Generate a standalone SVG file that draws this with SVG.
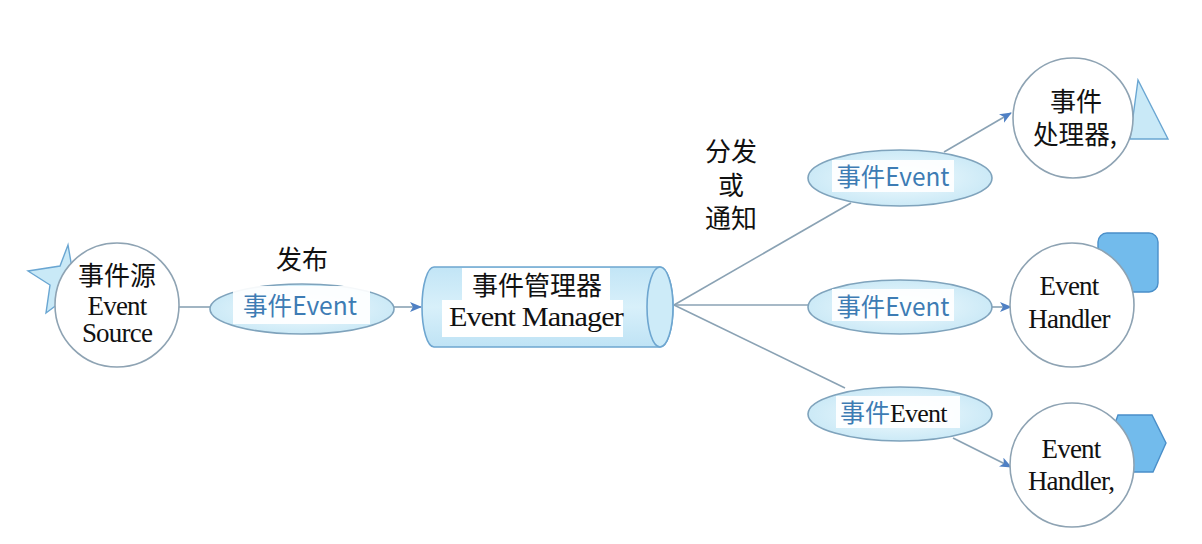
<svg xmlns="http://www.w3.org/2000/svg" width="1202" height="544" viewBox="0 0 1202 544">
<defs>
<style>
.bg{fill:#ffffff}
.circ{fill:#ffffff;stroke:#8ea3b3;stroke-width:1.6}
.ell{fill:url(#eg);stroke:#7fa3bc;stroke-width:1.6}
.line{fill:none;stroke:#8aa2b4;stroke-width:1.6}
.arrow{fill:none;stroke:#8aa2b4;stroke-width:1.6;marker-end:url(#ah)}
.cjk{font-family:"Noto Sans CJK SC","Noto Sans",sans-serif;font-size:26px;fill:#111}
.ser{font-family:"Liberation Serif","Noto Sans CJK SC",serif;font-size:27px;fill:#111;letter-spacing:-0.8px}
.blue{font-family:"Noto Sans CJK SC","Noto Sans",sans-serif;font-size:25px;fill:#3d7cb4}
.lblue{fill:#c9e9f7;stroke:#6aa6d2;stroke-width:1.4}
.dblue{fill:#72bbec;stroke:#4a8fc9;stroke-width:1.4}
.wbox{fill:#ffffff;opacity:0.92}
</style>
<radialGradient id="eg" cx="50%" cy="50%" r="60%">
<stop offset="0" stop-color="#f2fbfe"/>
<stop offset="1" stop-color="#c4e6f5"/>
</radialGradient>
<linearGradient id="cg" x1="0" y1="0" x2="0" y2="1">
<stop offset="0" stop-color="#c2e5f6"/>
<stop offset="0.5" stop-color="#d8f0fa"/>
<stop offset="1" stop-color="#bfe3f5"/>
</linearGradient>
<marker id="ah" viewBox="0 0 12 10" refX="11" refY="5" markerWidth="12" markerHeight="10" markerUnits="userSpaceOnUse" orient="auto">
<path d="M0,0 L12,5 L0,10 L3,5 Z" fill="#4f80c4"/>
</marker>
</defs>
<rect class="bg" x="0" y="0" width="1202" height="544"/>

<g id="connectors">
<line class="line" x1="179" y1="307" x2="211" y2="307"/>
<line class="arrow" x1="394" y1="307" x2="421" y2="307"/>
<line class="line" x1="674" y1="305" x2="851" y2="203"/>
<line class="line" x1="674" y1="305" x2="808" y2="305"/>
<line class="line" x1="674" y1="305" x2="845" y2="388"/>
<line class="arrow" x1="944" y1="152" x2="1011" y2="113"/>
<line class="arrow" x1="992" y1="307" x2="1011" y2="307"/>
<line class="arrow" x1="953" y1="438" x2="1011" y2="467"/>
</g>

<g id="event-source">
<polygon class="lblue" points="68,245 60,266 28,271 50,285 46,313 66,298 92,312 78,285 98,262 72,268"/>
<circle class="circ" cx="117" cy="305" r="62"/>
<text class="cjk" x="117" y="285" text-anchor="middle">事件源</text>
<text class="ser" x="117" y="315" text-anchor="middle">Event</text>
<text class="ser" x="117" y="342" text-anchor="middle">Source</text>
</g>

<g id="publish-label">
<text class="cjk" x="302" y="269" text-anchor="middle">发布</text>
</g>

<g id="event-publish">
<ellipse class="ell" cx="302" cy="309" rx="92" ry="25"/>
<rect class="wbox" x="233" y="286" width="137" height="38"/>
<text class="blue" x="300" y="315" text-anchor="middle" textLength="114" lengthAdjust="spacingAndGlyphs">事件Event</text>
</g>

<g id="event-manager">
<path d="M434,267 L660,267 A13,40 0 0 1 660,347 L434,347 A12,40 0 0 1 434,267 Z" fill="url(#cg)" stroke="#6ea6d0" stroke-width="1.6"/>
<ellipse cx="660" cy="307" rx="13" ry="40" fill="#cdebf8" stroke="#6ea6d0" stroke-width="1.6"/>
<rect class="bg" x="462" y="268" width="148" height="34"/>
<rect class="bg" x="442" y="300" width="181" height="37"/>
<text class="cjk" x="537" y="295" text-anchor="middle">事件管理器</text>
<text class="ser" x="536" y="326" text-anchor="middle" textLength="174" lengthAdjust="spacingAndGlyphs">Event Manager</text>
</g>

<g id="dispatch-label">
<text class="cjk" x="731" y="161" text-anchor="middle">分发</text>
<text class="cjk" x="731" y="195" text-anchor="middle">或</text>
<text class="cjk" x="731" y="228" text-anchor="middle">通知</text>
</g>

<g id="event-upper">
<ellipse class="ell" cx="900" cy="178" rx="92" ry="28"/>
<rect class="wbox" x="832" y="160" width="122" height="32"/>
<text class="blue" x="893" y="186" text-anchor="middle" textLength="113" lengthAdjust="spacingAndGlyphs">事件Event</text>
</g>

<g id="event-middle">
<ellipse class="ell" cx="900" cy="307" rx="92" ry="27"/>
<rect class="wbox" x="832" y="289" width="122" height="32"/>
<text class="blue" x="893" y="316" text-anchor="middle" textLength="113" lengthAdjust="spacingAndGlyphs">事件Event</text>
</g>

<g id="event-lower">
<ellipse class="ell" cx="900" cy="414" rx="92" ry="27"/>
<rect class="wbox" x="836" y="396" width="124" height="32"/>
<text x="840" y="422"><tspan class="blue" textLength="50" lengthAdjust="spacingAndGlyphs">事件</tspan><tspan class="ser" style="font-size:26px">Event</tspan></text>
</g>

<g id="handler-1">
<polygon class="lblue" points="1138,80 1168,139 1130,139"/>
<circle class="circ" cx="1073" cy="118" r="60"/>
<text class="cjk" x="1076" y="111" text-anchor="middle">事件</text>
<text class="cjk" x="1075" y="144" text-anchor="middle" textLength="84" lengthAdjust="spacingAndGlyphs">处理器,</text>
</g>

<g id="handler-2">
<rect class="dblue" x="1098" y="233" width="60" height="59" rx="9"/>
<circle class="circ" cx="1072" cy="305" r="62"/>
<text class="ser" x="1069" y="295" text-anchor="middle">Event</text>
<text class="ser" x="1069" y="328" text-anchor="middle">Handler</text>
</g>

<g id="handler-3">
<polygon class="dblue" points="1118,415 1152,415 1166,443 1153,472 1120,472 1108,443"/>
<circle class="circ" cx="1072" cy="465" r="62"/>
<text class="ser" x="1071" y="458" text-anchor="middle">Event</text>
<text class="ser" x="1071" y="490" text-anchor="middle">Handler,</text>
</g>
</svg>
